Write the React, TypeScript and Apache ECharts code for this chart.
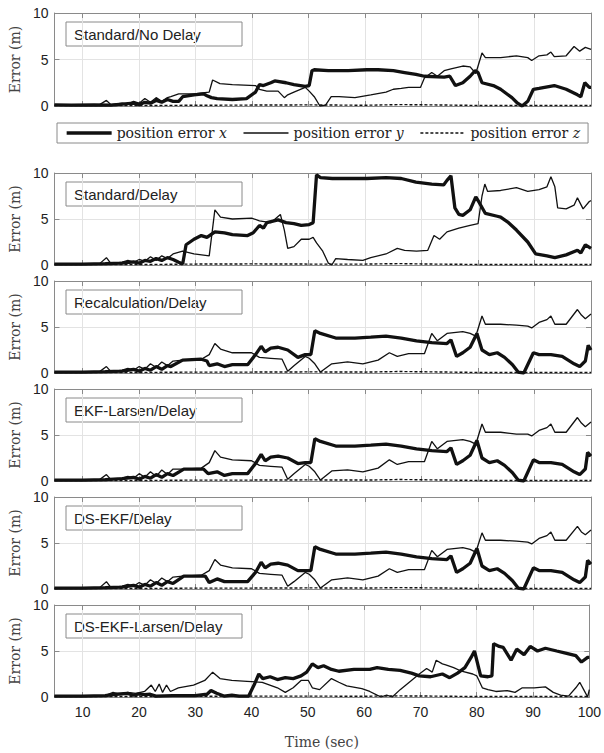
import React, { useEffect, useRef } from "react";
import * as echarts from "echarts";

type P = [number, number][];

const panelTitles = [
  "Standard/No Delay",
  "Standard/Delay",
  "Recalculation/Delay",
  "EKF-Larsen/Delay",
  "DS-EKF/Delay",
  "DS-EKF-Larsen/Delay",
];
const seriesNames = ["position error x", "position error y", "position error z"];
const xTicks = [10, 20, 30, 40, 50, 60, 70, 80, 90, 100];

const p1X: P = [[5,0.12],[8,0.1],[12,0.12],[15,0.1],[17,0.2],[19,0.3],[20,0.15],[21,0.4],[22,0.3],[23,0.6],[24,0.4],[25,0.7],[26,0.5],[27,0.5],[27.7,1.0],[29.7,1.2],[31.4,1.3],[32,1.1],[32.8,0.9],[33.8,0.8],[36.5,0.7],[39,0.8],[40.6,1.5],[41.3,2.3],[42,2.2],[43.3,2.5],[44,2.7],[46,2.5],[47.4,2.3],[49.4,2.1],[50.1,2.2],[50.6,3.8],[51,3.9],[53.5,3.8],[57,3.8],[60.3,3.9],[62.3,3.9],[65,3.8],[67,3.6],[69,3.4],[70.5,3.2],[74,3.1],[75,3.2],[76,2.2],[77.3,2.5],[78.6,3.2],[79.5,3.8],[80,3.6],[80.7,2.5],[82.7,2.2],[84,1.8],[86,0.9],[87,0.3],[87.8,0.0],[88.8,0.5],[89.8,1.8],[90.8,1.9],[93.5,2.2],[95.6,1.8],[97.6,1.2],[98.2,1.0],[98.9,2.5],[99.7,2.0],[100,2.0]];
const p1Y: P = [[5,0.1],[10,0.1],[13,0.15],[14.2,0.6],[15,0.15],[17,0.3],[18,0.2],[19,0.5],[20,0.3],[21,0.8],[22,0.4],[23,0.9],[24,0.5],[25,0.9],[25.6,1.0],[27,1.3],[29.7,1.3],[32.4,1.5],[33,2.8],[34.3,2.4],[36.5,2.3],[40.6,2.2],[41.3,1.8],[42.6,1.6],[44.6,1.6],[45.7,0.9],[46.3,1.2],[47.4,1.5],[49.4,2.0],[50.1,1.6],[51,1.0],[52,0.0],[53,0.1],[54,1.0],[55.4,1.0],[58.2,0.9],[61,1.2],[63.7,1.5],[65,1.8],[66.4,1.9],[67.7,2.0],[69.8,2.0],[70.5,3.0],[71.8,3.6],[72.8,3.2],[74,3.8],[75.2,4.0],[77.3,4.3],[78.6,4.2],[79.6,3.5],[80.7,5.7],[81.3,5.2],[84,5.2],[86.8,5.4],[88.8,5.2],[89.5,4.9],[90.8,5.4],[92.2,5.5],[92.9,5.8],[93.5,5.3],[95.6,5.4],[97,6.4],[98,5.9],[99,6.3],[100,6.1]];
const p1Z: P = [[5,0.05],[20,0.05],[30,0.08],[40,0.1],[50,0.12],[60,0.08],[66,0.15],[72,0.12],[80,0.06],[100,0.05]];

const p2X: P = [[5,0.1],[10,0.1],[14,0.15],[17,0.2],[19,0.35],[20,0.2],[21,0.5],[22,0.4],[23,0.7],[24,0.5],[25,0.8],[26,0.6],[27,0.3],[27.7,0.1],[28.3,2.2],[29.7,2.8],[31,3.2],[32,3.0],[33.4,3.6],[35.1,3.5],[36.5,3.3],[39.2,3.2],[40.2,3.5],[41.3,4.3],[42,4.0],[42.6,4.6],[44.6,4.9],[46,4.6],[47.4,4.5],[48.7,4.3],[50.1,4.4],[50.8,4.6],[51.4,9.8],[52.1,9.5],[54.2,9.4],[57,9.4],[60.3,9.4],[63.7,9.5],[66.4,9.4],[69,9.0],[71.8,8.8],[73.9,8.7],[74.5,9.2],[75.2,9.7],[75.9,6.2],[76.6,5.5],[77.3,5.4],[78.6,6.0],[79.6,7.4],[80.2,6.8],[81.3,5.6],[83.4,5.3],[84,5.2],[85.4,4.6],[86.8,3.8],[88.8,2.5],[90.2,1.2],[92.2,1.0],[93.6,0.8],[95.6,1.1],[97.6,1.6],[98.2,1.3],[99,2.2],[100,1.8]];
const p2Y: P = [[5,0.1],[10,0.1],[13,0.15],[14.2,0.8],[15,0.15],[17,0.3],[18,0.5],[19,0.3],[20,0.6],[21,0.4],[22,0.9],[23,0.5],[24,1.0],[25,0.7],[26,1.2],[27.7,1.5],[29.7,1.2],[32.4,1.0],[33.4,6.0],[34.4,5.2],[36.5,5.0],[39.9,5.1],[41.3,4.8],[43.3,4.6],[45,5.5],[45.7,3.8],[46.3,1.8],[47.4,2.0],[48.7,2.8],[50.1,2.8],[50.8,3.0],[51.4,2.4],[52.5,1.5],[53.5,0.2],[54.1,0.0],[54.8,0.7],[56.9,0.6],[59.6,0.5],[61,0.8],[63.7,1.2],[65.7,1.8],[67,1.6],[69.1,1.5],[71.1,1.6],[72.2,3.2],[73.2,2.8],[74.5,3.6],[76.6,4.0],[78.6,4.3],[80,4.5],[80.7,7.5],[81.2,8.8],[81.7,8.0],[84,8.1],[86.8,8.4],[88.8,8.0],[90.8,8.2],[92.2,8.5],[92.9,9.6],[93.6,8.5],[94.1,6.2],[95.6,6.1],[97,6.5],[97.6,7.3],[98.6,6.1],[99.7,6.9],[100,7.0]];
const p2Z: P = [[5,0.05],[20,0.05],[30,0.1],[40,0.12],[50,0.1],[60,0.1],[66,0.15],[72,0.1],[80,0.06],[100,0.05]];

const p3X: P = [[5,0.1],[10,0.1],[14,0.15],[17,0.2],[19,0.4],[20,0.2],[21,0.5],[22,0.3],[23,0.7],[24,0.4],[25,0.8],[25.6,0.7],[27.7,1.4],[31,1.5],[32,1.3],[32.4,0.8],[33.8,1.0],[35.1,0.7],[36.5,0.9],[39.2,0.9],[40.6,2.0],[41.6,2.9],[42.3,2.3],[43.3,2.7],[44.6,2.8],[46.3,2.5],[48.1,1.7],[49.4,2.0],[50.4,2.0],[51.1,4.6],[52.1,4.3],[54.8,3.8],[58.2,3.8],[61,3.9],[63.7,4.0],[66.4,3.8],[69.1,3.5],[71.8,3.3],[74.5,3.2],[75.2,3.6],[76.2,1.8],[77.3,2.2],[78.6,2.8],[79.8,4.3],[80.7,2.5],[82,2.0],[83.4,2.2],[84.7,1.7],[86.1,0.9],[87.1,0.1],[88.1,0.0],[89.8,2.2],[90.8,2.0],[92.9,2.0],[94.9,1.8],[97,1.0],[98,0.7],[99,1.3],[99.5,3.0],[100,2.5]];
const p3Y: P = [[5,0.1],[10,0.1],[13,0.15],[14.2,0.7],[15,0.15],[17,0.3],[18,0.5],[19,0.3],[20,0.7],[21,0.4],[22,1.0],[23,0.6],[24,1.2],[25,0.8],[26,1.3],[27.7,1.4],[31,1.5],[32.4,2.0],[33.4,3.2],[34.4,2.6],[36.5,2.2],[39.9,2.2],[41.3,1.7],[43.3,1.6],[45.3,1.5],[46.3,0.2],[47.4,0.8],[49.4,1.8],[50.1,1.6],[51.1,1.0],[52.1,0.1],[54.1,1.0],[56.9,1.2],[59.6,1.0],[62.3,1.4],[64.3,2.2],[65.7,1.8],[67.7,2.1],[70.5,2.1],[71.8,4.3],[72.8,3.5],[74.5,4.3],[77.3,4.5],[78.6,4.3],[79.6,4.0],[80.7,6.2],[81.3,5.3],[84,5.3],[86.8,5.2],[88.8,5.1],[89.5,4.9],[90.8,5.5],[92.2,5.8],[92.9,6.2],[93.6,5.3],[95.6,5.3],[97.6,6.9],[98.3,6.3],[99,5.9],[100,6.4]];
const p3Z: P = [[5,0.05],[20,0.06],[30,0.1],[40,0.1],[50,0.12],[60,0.1],[66,0.16],[72,0.12],[80,0.06],[100,0.05]];

const p4X: P = [[5,0.1],[10,0.1],[14,0.15],[17,0.25],[19,0.4],[20,0.2],[21,0.5],[22,0.3],[23,0.7],[24,0.4],[25,0.8],[26,0.6],[27.9,1.3],[31.4,1.3],[32.2,0.8],[33.8,1.0],[35.1,0.6],[36.5,0.8],[39.2,0.8],[40.6,1.9],[41.6,2.9],[42.3,2.2],[43.3,2.6],[44.6,2.7],[46.3,2.5],[48.1,1.9],[49.4,2.0],[50.4,2.0],[51.1,4.6],[52.1,4.3],[54.8,3.8],[58.2,3.8],[61,3.9],[63.7,4.0],[66.4,3.8],[69.1,3.5],[71.8,3.3],[74.5,3.2],[75.2,3.6],[76.2,1.8],[77.3,2.2],[78.6,2.8],[79.8,4.4],[80.7,2.5],[82,2.0],[83.4,2.2],[84.7,1.7],[86.1,0.9],[87.1,0.1],[88.1,0.0],[89.8,2.3],[90.8,2.0],[92.9,2.0],[94.9,1.8],[97,1.0],[98,0.7],[99,1.3],[99.4,3.1],[100,2.7]];
const p4Y: P = [[5,0.1],[10,0.1],[13,0.15],[14.2,0.7],[15,0.15],[17,0.3],[18,0.5],[19,0.3],[20,0.8],[21,0.4],[22,1.0],[23,0.5],[24,1.2],[25,0.7],[26,1.3],[27.7,1.3],[31,1.4],[32.4,2.0],[33.4,3.3],[34.4,2.6],[36.5,2.3],[39.9,2.2],[41.3,1.7],[43.3,1.6],[45.3,1.5],[46.3,0.2],[47.4,0.8],[49.4,1.8],[50.1,1.6],[51.1,1.0],[52.1,0.1],[54.1,1.1],[56.9,1.2],[59.6,1.0],[62.3,1.4],[64.3,2.3],[65.7,1.8],[67.7,2.1],[70.5,2.1],[71.8,4.3],[72.8,3.5],[74.5,4.3],[77.3,4.5],[78.6,4.3],[79.6,4.0],[80.7,6.2],[81.3,5.3],[84,5.3],[86.8,5.1],[88.8,5.1],[89.5,4.9],[90.8,5.5],[92.2,5.8],[92.9,6.2],[93.6,5.3],[95.6,5.3],[97.6,6.9],[98.3,6.3],[99,5.9],[100,6.4]];
const p4Z: P = [[5,0.05],[20,0.05],[30,0.1],[40,0.1],[50,0.12],[60,0.1],[66,0.16],[72,0.12],[80,0.06],[100,0.05]];

const p5X: P = [[5,0.1],[10,0.1],[14,0.15],[17,0.2],[19,0.4],[20,0.2],[21,0.5],[22,0.3],[23,0.7],[24,0.4],[25,0.8],[26,0.6],[27.9,1.4],[31.7,1.4],[32.4,0.7],[33.8,1.1],[35.1,0.8],[36.5,0.8],[39.2,0.8],[40.6,1.8],[41.6,2.9],[42.3,2.3],[43.3,2.7],[44.6,2.8],[46.3,2.6],[48.1,2.0],[49.4,2.0],[50.4,2.0],[51.1,4.6],[52.1,4.3],[54.8,3.8],[58.2,3.8],[61,3.9],[63.7,4.0],[66.4,3.8],[69.1,3.5],[71.8,3.3],[74.5,3.2],[75.2,3.6],[76.2,1.8],[77.3,2.2],[78.6,2.8],[79.8,4.4],[80.7,2.5],[82,2.0],[83.4,2.2],[84.7,1.7],[86.1,0.9],[87.1,0.1],[88.1,0.0],[89.8,2.3],[90.8,2.0],[92.9,2.0],[94.9,1.8],[97,1.0],[98,0.7],[99,1.3],[99.4,3.1],[100,2.7]];
const p5Y: P = [[5,0.1],[10,0.1],[13,0.15],[14.2,0.8],[15,0.15],[17,0.3],[18,0.5],[19,0.3],[20,0.7],[21,0.4],[22,1.0],[23,0.6],[24,1.2],[25,0.8],[26,1.3],[27.7,1.4],[31,1.5],[32.4,2.0],[33.4,3.2],[34.4,2.6],[36.5,2.3],[39.9,2.2],[41.3,1.7],[43.3,1.6],[45.3,1.5],[46.3,0.3],[47.4,0.8],[49.4,1.8],[50.1,1.6],[51.1,1.0],[52.1,0.1],[54.1,1.0],[56.9,1.2],[59.6,1.0],[62.3,1.4],[64.3,2.2],[65.7,1.8],[67.7,2.1],[70.5,2.1],[71.8,4.2],[72.8,3.5],[74.5,4.3],[77.3,4.5],[78.6,4.3],[79.6,4.0],[80.7,6.1],[81.3,5.3],[84,5.3],[86.8,5.2],[88.8,5.1],[89.5,4.9],[90.8,5.5],[92.2,5.8],[92.9,6.2],[93.6,5.3],[95.6,5.3],[97.6,6.8],[98.3,6.2],[99,5.9],[100,6.4]];
const p5Z: P = [[5,0.05],[20,0.05],[30,0.1],[40,0.1],[50,0.12],[60,0.1],[66,0.15],[72,0.12],[80,0.06],[100,0.05]];

const p6X: P = [[5,0.1],[10,0.1],[14,0.15],[16,0.3],[18,0.4],[19,0.2],[20,0.35],[21,0.25],[22,0.3],[23,0.1],[26,0.15],[30,0.15],[32.1,0.3],[32.8,0.7],[33.8,0.4],[35.1,0.1],[36.5,0.2],[37.8,0.1],[39.5,0.1],[40.6,1.5],[41.3,2.5],[42,2.0],[43.3,2.2],[44.6,1.9],[46,2.1],[47.4,2.0],[48.8,2.3],[49.8,2.7],[50.8,3.6],[51.8,3.2],[52.8,3.4],[54.2,3.0],[55.5,2.8],[58.2,3.0],[61,3.0],[62.3,3.2],[64.3,3.0],[66.4,2.9],[68.4,2.6],[69.8,2.3],[71.8,2.2],[73.9,2.5],[75.2,2.1],[76.6,2.6],[77.9,3.2],[79,4.3],[79.6,5.0],[80.7,2.3],[82,2.2],[82.7,2.3],[83,5.8],[84,5.5],[84.7,5.4],[86.1,4.0],[87.1,5.2],[88.4,4.6],[89.5,5.5],[90.8,5.0],[92.2,5.3],[94.2,5.0],[95.6,4.8],[97.6,4.5],[98.6,3.8],[99.7,4.3],[100,4.3]];
const p6Y: P = [[5,0.1],[10,0.1],[14,0.15],[15.4,0.5],[16.5,0.3],[18,0.5],[19.5,0.4],[21,0.6],[22.2,1.3],[22.9,0.6],[23.6,1.4],[24.2,0.5],[24.9,1.3],[25.6,0.6],[27,1.0],[29.7,1.3],[31.7,1.8],[33.1,2.7],[34.4,2.0],[36.5,1.8],[39.2,1.7],[41.9,1.6],[44.6,1.0],[46,0.5],[47.4,1.0],[48.8,1.8],[50.1,1.8],[50.8,1.0],[52.1,0.8],[54.2,2.0],[55.5,1.6],[56.9,1.2],[59.6,0.9],[61,0.6],[62.3,0.2],[63,0.0],[64,0.2],[65,0.0],[66.4,0.8],[68.4,1.8],[69.8,2.5],[71.1,3.1],[72.1,2.7],[72.8,4.0],[73.9,3.6],[74.5,3.5],[75.9,3.2],[77.3,2.8],[79.3,2.5],[80,2.3],[81,1.0],[82,0.8],[83.4,0.6],[85.4,0.7],[86.8,0.5],[88.1,1.0],[90.2,1.0],[92.2,1.1],[93.6,0.5],[94.9,0.2],[96.3,0.1],[97.6,1.0],[98.3,1.6],[99,0.8],[99.7,0.0],[100,0.8]];
const p6Z: P = [[5,0.05],[20,0.05],[30,0.08],[40,0.1],[50,0.1],[60,0.08],[66,0.12],[72,0.1],[80,0.05],[100,0.05]];

const panelData: P[][] = [
  [p1X, p1Y, p1Z],
  [p2X, p2Y, p2Z],
  [p3X, p3Y, p3Z],
  [p4X, p4Y, p4Z],
  [p5X, p5Y, p5Z],
  [p6X, p6Y, p6Z],
];

const SANS = '"Liberation Sans", Arial, sans-serif';
const SERIF = '"DejaVu Serif", "Liberation Serif", serif';
const FRAME = "#8a8a8a";
const GRIDC = "#e3e3e3";
const INK = "#111";

export default function App() {
  const ref = useRef<HTMLDivElement>(null);
  useEffect(() => {
    if (!ref.current) return;
    const chart = echarts.init(ref.current, null, { renderer: "svg" });
    const tops = [13, 173, 281, 389, 497, 605];
    const heights = [93, 92, 92, 92, 92, 92];
    const left = 52;
    const width = 539;

    const grid: any[] = [];
    const xAxis: any[] = [];
    const yAxis: any[] = [];
    const series: any[] = [];
    const graphic: any[] = [];

    tops.forEach((top, i) => {
      const last = i === tops.length - 1;
      grid.push({ left, top, width, height: heights[i], show: false });
      xAxis.push({
        type: "value", gridIndex: i, min: 5, max: 100, position: "bottom",
        axisLine: { show: true, onZero: false, lineStyle: { color: FRAME, width: 1 } },
        axisTick: { show: true, inside: true, length: 5, customValues: xTicks, lineStyle: { color: FRAME } },
        axisLabel: { show: last, customValues: xTicks, fontFamily: SANS, fontSize: 14, color: "#222", margin: 8 },
        splitLine: { show: true, lineStyle: { color: GRIDC, width: 1 } },
        name: last ? "Time (sec)" : "",
        nameLocation: "middle", nameGap: 38,
        nameTextStyle: { fontFamily: SERIF, fontSize: 14, color: "#444" },
      });
      xAxis.push({
        type: "value", gridIndex: i, min: 5, max: 100, position: "top",
        axisLine: { show: true, onZero: false, lineStyle: { color: FRAME, width: 1 } },
        axisTick: { show: true, inside: true, length: 5, customValues: xTicks, lineStyle: { color: FRAME } },
        axisLabel: { show: false },
        splitLine: { show: false },
      });
      yAxis.push({
        type: "value", gridIndex: i, min: 0, max: 10, interval: 5, position: "left",
        axisLine: { show: true, onZero: false, lineStyle: { color: FRAME, width: 1 } },
        axisTick: { show: true, inside: true, length: 5, lineStyle: { color: FRAME } },
        axisLabel: { show: true, fontFamily: SANS, fontSize: 14, color: "#222", margin: 6 },
        splitLine: { show: true, lineStyle: { color: GRIDC, width: 1 } },
        name: "Error (m)", nameLocation: "middle", nameGap: 32,
        nameTextStyle: { fontFamily: SERIF, fontSize: 14, color: "#444" },
      });
      yAxis.push({
        type: "value", gridIndex: i, min: 0, max: 10, interval: 5, position: "right",
        axisLine: { show: true, onZero: false, lineStyle: { color: FRAME, width: 1 } },
        axisTick: { show: true, inside: true, length: 5, lineStyle: { color: FRAME } },
        axisLabel: { show: false },
        splitLine: { show: false },
      });

      const [dx, dy, dz] = panelData[i];
      const common = { type: "line", xAxisIndex: 2 * i, yAxisIndex: 2 * i, symbol: "none", silent: true, color: INK };
      series.push({ ...common, name: seriesNames[1], data: dy, z: 3, lineStyle: { color: INK, width: 1.3 } });
      series.push({ ...common, name: seriesNames[2], data: dz, z: 3, lineStyle: { color: INK, width: 1.4, type: [3, 2] } });
      series.push({ ...common, name: seriesNames[0], data: dx, z: 4, lineStyle: { color: INK, width: 3.3 } });

      graphic.push({
        type: "group", x: 66, y: top + 9, z: 10,
        children: [
          { type: "rect", shape: { x: 0, y: 0, width: 176, height: 24 }, style: { fill: "#fff", stroke: FRAME, lineWidth: 1 } },
          { type: "text", x: 8, y: 12.5, style: { text: panelTitles[i], fontFamily: SANS, fontSize: 15, fill: "#222", verticalAlign: "middle", align: "left" } },
        ],
      });
    });

    const option: any = {
      animation: false,
      backgroundColor: "#fff",
      grid, xAxis, yAxis, series, graphic,
      legend: {
        left: 57, top: 123, orient: "horizontal",
        selectedMode: false,
        itemWidth: 45, itemHeight: 14, itemGap: 16,
        padding: [3, 8, 3, 8],
        borderColor: FRAME, borderWidth: 1, backgroundColor: "#fff",
        data: [
          { name: seriesNames[0], itemStyle: { opacity: 0 }, lineStyle: { width: 3.3, color: INK } },
          { name: seriesNames[1], itemStyle: { opacity: 0 }, lineStyle: { width: 1.3, color: INK } },
          { name: seriesNames[2], itemStyle: { opacity: 0 }, lineStyle: { width: 1.4, color: INK, type: [3, 2] } },
        ],
        formatter: (name: string) => {
          const v = name.slice(-1);
          return "{r|position error }{i|" + v + "}";
        },
        textStyle: {
          fontFamily: SERIF, fontSize: 14, color: "#222",
          rich: {
            r: { fontFamily: SERIF, fontSize: 14, color: "#222" },
            i: { fontFamily: SERIF, fontSize: 14, color: "#222", fontStyle: "italic" },
          },
        },
      },
    };
    chart.setOption(option);
    return () => chart.dispose();
  }, []);
  return <div ref={ref} style={{ position: "absolute", left: 0, top: 0, width: 604, height: 753, background: "#fff" }} />;
}
